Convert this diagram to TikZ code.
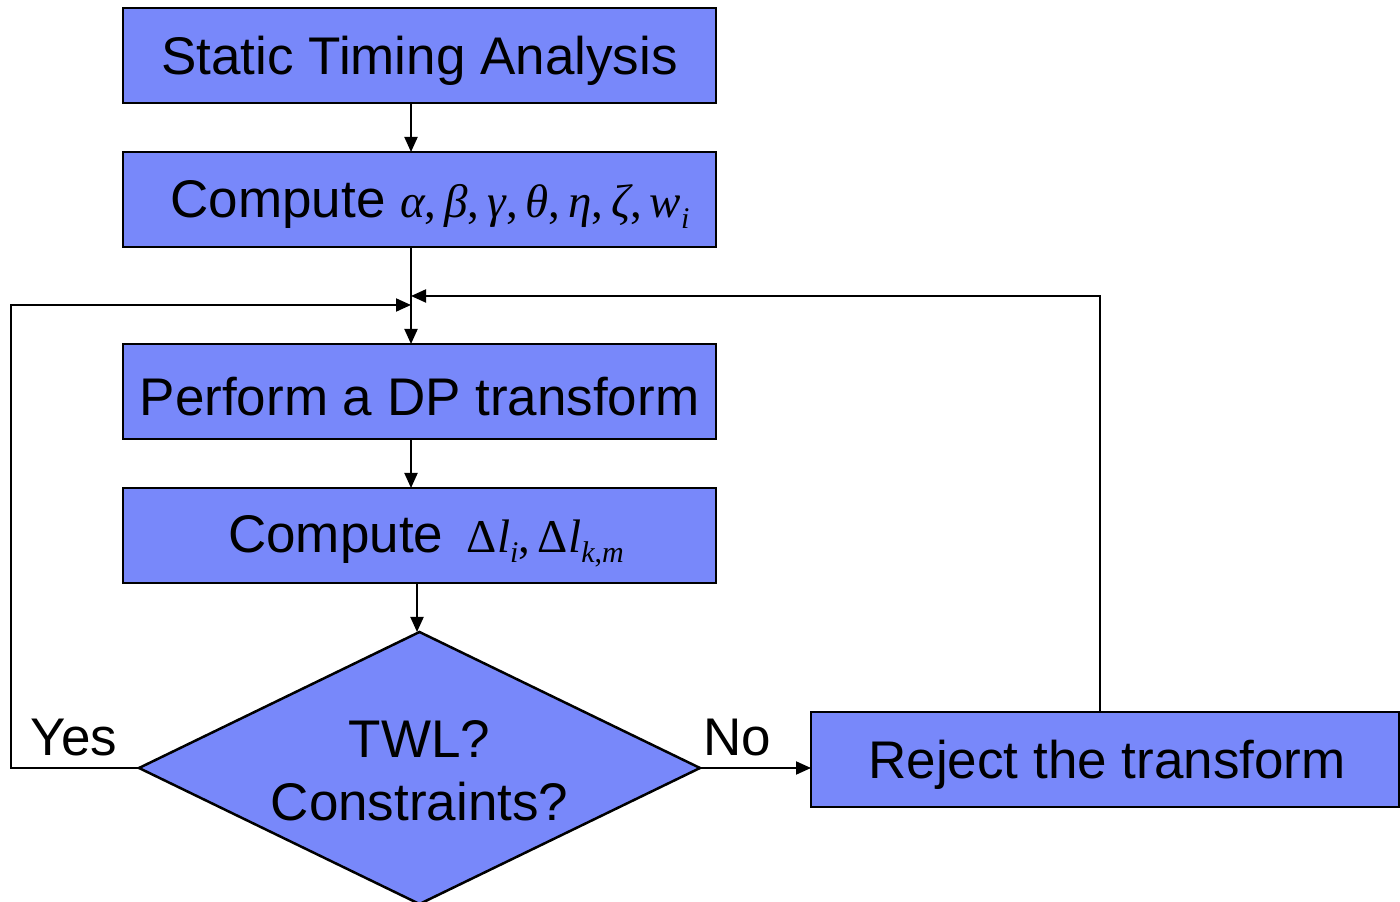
\documentclass[tikz,border=0pt]{standalone}
\usepackage{fontspec}
\setmainfont{Liberation Sans}
\newfontfamily\mserif{Liberation Serif}
\usetikzlibrary{arrows.meta,calc}
\definecolor{boxblue}{RGB}{120,136,250}
\newcommand\msub[1]{\raisebox{-0.22em}{\fontsize{30}{30}\selectfont #1}}
\newcommand\ivar[1]{{\itshape #1}}
\begin{document}
\begin{tikzpicture}[x=1pt,y=1pt,
  every node/.style={font=\fontsize{53}{63}\selectfont},
  stepbox/.style={draw=black,line width=2.5pt,fill=boxblue,rectangle,
    minimum width=593pt,minimum height=95pt,inner sep=0pt,outer sep=0pt},
  caption/.style={inner sep=0pt,align=center},
  link/.style={line width=2pt,-{Triangle[length=15pt,width=13pt]}}]
\useasboundingbox (0,0) rectangle (1400,902);

% process steps
\node[stepbox] (s1) at (419.5,846.5) {};
\node[caption] (t1) at (419.5,841) {Static Timing Analysis};
\node[stepbox] (s2) at (419.5,702.5) {};
\node[caption] (t2) at (430,697) {Compute {\mserif\fontsize{47}{47}\selectfont \ivar{α},\,\ivar{β},\,\ivar{γ},\,\ivar{θ},\,\ivar{η},\,\ivar{ζ},\,\ivar{w}\msub{\ivar{i}}}};
\node[stepbox] (s3) at (419.5,510.5) {};
\node[caption] (t3) at (419.5,505) {Perform a DP transform};
\node[stepbox] (s4) at (419.5,366.5) {};
\node[caption] (t4) at (426,361) {Compute\, {\mserif\fontsize{47}{47}\selectfont Δ\ivar{l}\msub{\ivar{i}},\,Δ\ivar{l}\msub{\ivar{k},\ivar{m}}}};

% decision
\coordinate (dt) at (419.5,270);
\coordinate (dl) at (139,134);
\coordinate (dr) at (700,134);
\coordinate (db) at (419.5,-2);
\draw[line width=2.5pt,fill=boxblue,line join=miter] (dt) -- (dr) -- (db) -- (dl) -- cycle;
\node[caption] (dq) at (419.5,131) {TWL?\\Constraints?};

% rejection step
\node[stepbox,minimum width=588pt] (rej) at (1105,142.5) {};
\node[caption] (tr) at (1107,137) {Reject the transform};

% branch labels
\node (yes) at (74,164) {Yes};
\node (no) at (737,164) {No};

% junction points of the loop-backs
\coordinate (jn) at (411,597);
\coordinate (jr) at (411,606);
\coordinate (lc) at (11,597);
\coordinate (rc) at (1100,606);

% main flow
\draw[link] (s1.south -| jn) -- (s2.north -| jn);
\draw[link] (s2.south -| jn) -- (s3.north -| jn);
\draw[link] (s3.south -| jn) -- (s4.north -| jn);
\draw[link] ($(s4.south -| dt)+(-2.5,0)$) -- ($(dt)+(-2.5,0)$);
\draw[link] (dr) -- (dr -| rej.west);

% loop-backs
\draw[link] (dl) -| (lc) -- (jn);
\draw[link] (rej.north -| rc) |- (jr);
\end{tikzpicture}
\end{document}
